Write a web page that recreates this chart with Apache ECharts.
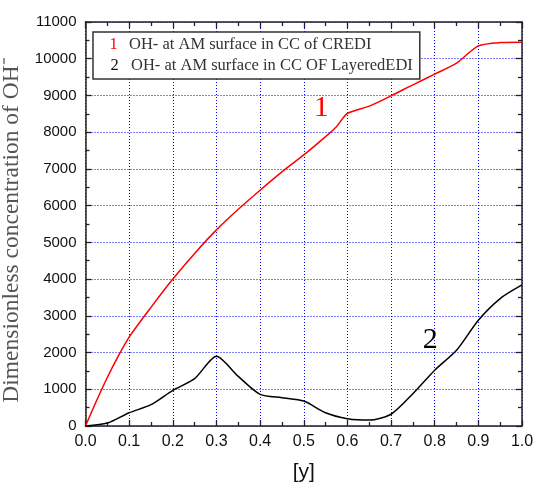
<!DOCTYPE html>
<html>
<head>
<meta charset="utf-8">
<script src="https://cdn.jsdelivr.net/npm/echarts@6/dist/echarts.min.js"></script>
<style>
  html, body { margin: 0; padding: 0; background: #fff; }
  #chart { width: 535px; height: 487px; }
</style>
</head>
<body>
<div id="chart"></div>
<script>
// values
const xCredi = [0, 0.025, 0.05, 0.075, 0.1, 0.15, 0.2, 0.25, 0.3, 0.35, 0.4, 0.45, 0.5, 0.55, 0.575, 0.6, 0.65, 0.7, 0.75, 0.8, 0.85, 0.9, 0.95, 1.0];
const yCredi = [0, 680, 1320, 1900, 2420, 3230, 4000, 4700, 5340, 5900, 6420, 6920, 7380, 7880, 8150, 8510, 8710, 8990, 9290, 9580, 9880, 10350, 10440, 10450];

const xLayered = [0, 0.05, 0.1, 0.15, 0.2, 0.25, 0.3, 0.35, 0.4, 0.45, 0.5, 0.55, 0.6, 0.65, 0.7, 0.75, 0.8, 0.85, 0.9, 0.95, 1.0];
const yLayered = [0, 80, 360, 580, 970, 1290, 1900, 1350, 860, 770, 680, 360, 200, 160, 320, 880, 1520, 2060, 2880, 3470, 3840];

const seriesNames = ["OH- at AM surface in CC of CREDI", "OH- at AM surface in CC OF LayeredEDI"];
const curveTags = ["1", "2"];
const tagSpots = [[0.54, 8660], [0.79, 2340]];

const chart = echarts.init(document.getElementById("chart"));

const zip = (xs, ys) => xs.map((x, i) => [x, ys[i]]);

// fresh objects per axis so nothing is shared between them
const gridLine = (on) => ({ show: on, lineStyle: { color: "#0000ff", type: [1, 2], width: 1 } });
const frame = () => ({ show: true, onZero: false, lineStyle: { color: "#222", width: 1.5 } });
const tickIn = () => ({ show: true, inside: true, length: 6, lineStyle: { color: "#222", width: 1.3 } });
const minorIn = () => ({ show: true, splitNumber: 2, length: 4, lineStyle: { color: "#222", width: 1.3 } });

const option = {
  backgroundColor: "#fff",
  animation: false,
  grid: { left: 85.5, right: 13, top: 22, bottom: 61, outerBoundsMode: "none", containLabel: false },
  legend: {
    orient: "vertical",
    left: 93,
    top: 32,
    itemWidth: 0,
    itemHeight: 0,
    itemGap: 1,
    padding: [3, 7, 3, 0],
    borderColor: "#333",
    borderWidth: 1.5,
    backgroundColor: "#fff",
    data: seriesNames.map((n) => ({ name: n, icon: "none" })),
    formatter: (name) => {
      const i = seriesNames.indexOf(name);
      return "{n" + i + "|" + curveTags[i] + "}{t|" + name + "}";
    },
    textStyle: {
      lineHeight: 20,
      rich: {
        n0: { color: "#ff0000", fontFamily: "Liberation Serif", fontSize: 16.5, width: 31, align: "center", lineHeight: 20 },
        n1: { color: "#111", fontFamily: "Liberation Serif", fontSize: 16.5, width: 33, align: "center", lineHeight: 20 },
        t: { color: "#333", fontFamily: "Liberation Serif", fontSize: 16.5, lineHeight: 20 }
      }
    }
  },
  xAxis: [
    {
      type: "value",
      min: 0,
      max: 1,
      interval: 0.1,
      name: "[y]",
      nameLocation: "middle",
      nameGap: 36,
      nameTextStyle: { fontFamily: "Liberation Sans", fontSize: 21, color: "#111" },
      axisLine: frame(),
      axisTick: tickIn(),
      minorTick: minorIn(),
      splitLine: gridLine(true),
      axisLabel: {
        margin: 8,
        fontFamily: "Liberation Sans",
        fontSize: 16,
        color: "#111",
        formatter: (v) => v.toFixed(1)
      }
    },
    {
      type: "value",
      position: "top",
      min: 0,
      max: 1,
      interval: 0.1,
      axisLine: frame(),
      axisTick: tickIn(),
      minorTick: minorIn(),
      splitLine: gridLine(false),
      axisLabel: { show: false }
    }
  ],
  yAxis: [
    {
      type: "value",
      min: 0,
      max: 11000,
      interval: 1000,
      name: "Dimensionless concentration of OH\u207B",
      nameLocation: "middle",
      nameGap: 62,
      nameTextStyle: { fontFamily: "Liberation Serif", fontSize: 23.5, color: "#555", padding: [0, 12, 0, 0] },
      axisLine: frame(),
      axisTick: tickIn(),
      minorTick: minorIn(),
      splitLine: gridLine(true),
      axisLabel: {
        margin: 9,
        fontFamily: "Liberation Sans",
        fontSize: 15,
        color: "#111",
        formatter: (v) => String(v)
      }
    },
    {
      type: "value",
      position: "right",
      min: 0,
      max: 11000,
      interval: 1000,
      axisLine: frame(),
      axisTick: tickIn(),
      minorTick: minorIn(),
      splitLine: gridLine(false),
      axisLabel: { show: false }
    }
  ],
  series: [
    {
      name: seriesNames[0],
      type: "line",
      data: zip(xCredi, yCredi),
      smooth: 0.25,
      showSymbol: false,
      lineStyle: { color: "#ff0000", width: 1.5 },
      itemStyle: { color: "#ff0000" },
      markPoint: {
        symbol: "circle",
        symbolSize: 0,
        data: [{ coord: tagSpots[0], value: curveTags[0] }],
        label: { show: true, formatter: curveTags[0], color: "#ff0000", fontFamily: "Liberation Serif", fontSize: 30, position: "inside" }
      }
    },
    {
      name: seriesNames[1],
      type: "line",
      data: zip(xLayered, yLayered),
      smooth: 0.25,
      showSymbol: false,
      lineStyle: { color: "#000", width: 1.5 },
      itemStyle: { color: "#000" },
      markPoint: {
        symbol: "circle",
        symbolSize: 0,
        data: [{ coord: tagSpots[1], value: curveTags[1] }],
        label: { show: true, formatter: curveTags[1], color: "#000", fontFamily: "Liberation Serif", fontSize: 30, position: "inside" }
      }
    }
  ]
};

chart.setOption(option);
</script>
</body>
</html>
